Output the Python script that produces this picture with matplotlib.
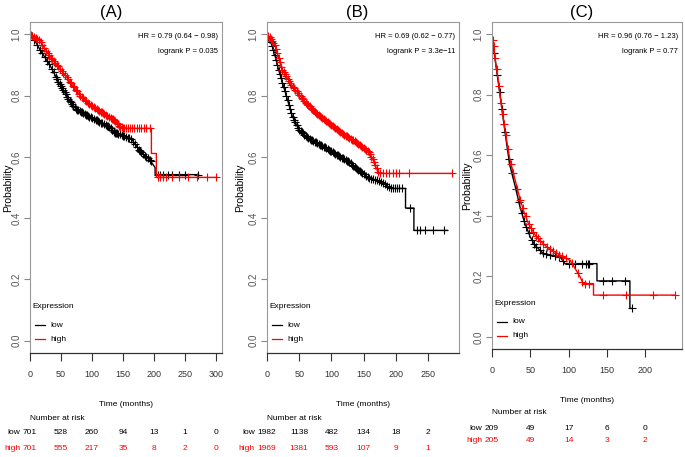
import numpy as np
import matplotlib.pyplot as plt
import matplotlib.transforms as mtransforms

plt.rcParams['font.family'] = ['Liberation Sans', 'DejaVu Sans']

# Panel A curves (time in months, survival probability)
a_low_t = [0, 5, 16, 32, 48, 65, 75, 99, 126, 137, 164, 177, 194, 202, 202, 272]
a_low_s = [1.0, 0.99, 0.95, 0.90, 0.837, 0.78, 0.755, 0.728, 0.70, 0.68, 0.658, 0.62, 0.588, 0.565, 0.542, 0.542]
a_high_t = [0, 8, 16, 32, 48, 65, 81, 99, 121, 137, 145, 150, 196, 196, 204, 204, 301]
a_high_s = [1.0, 0.99, 0.977, 0.929, 0.89, 0.843, 0.80, 0.766, 0.739, 0.718, 0.70, 0.693, 0.693, 0.611, 0.611, 0.533, 0.533]
a_low_cens = [3, 7, 12, 16, 20, 24, 28, 31, 35, 38, 42, 44, 46, 48, 50, 52, 54, 56, 58, 60, 62, 64, 66, 68,
              70, 72, 74, 76, 78, 80, 82, 84, 86, 88, 90, 92, 94, 96, 98, 100, 103, 106, 108, 110, 112, 115,
              117, 120, 122, 124, 126, 128, 130, 132, 133, 135, 136, 138, 139, 141, 142, 145, 148, 150, 152,
              155, 158, 160, 163, 167, 170, 173, 176, 178, 180, 183, 186, 188, 190, 193, 195, 206, 210, 215,
              223, 230, 240, 250, 272]
a_high_cens = [2, 4, 7, 9, 12, 14, 17, 20, 23, 26, 29, 31, 34, 36, 39, 41, 44, 46, 49, 51, 54, 56, 59, 61,
               64, 66, 69, 71, 74, 76, 79, 81, 84, 86, 88, 90, 93, 95, 98, 100, 103, 105, 108, 110, 112, 114,
               116, 118, 120, 122, 125, 127, 130, 132, 134, 136, 138, 140, 142, 144, 146, 148, 150, 152, 155,
               158, 162, 165, 168, 172, 176, 180, 184, 188, 194, 207, 210, 215, 220, 230, 240, 255, 270, 285,
               300]

# Panel B curves
b_low_t = [0, 5, 10, 18, 28.5, 39, 49, 65, 85, 106, 127, 142, 158, 178, 191, 215, 215, 228, 228, 280]
b_low_s = [1.0, 0.98, 0.95, 0.885, 0.81, 0.735, 0.69, 0.659, 0.637, 0.61, 0.584, 0.556, 0.53, 0.519,
           0.497, 0.497, 0.433, 0.433, 0.36, 0.36]
b_high_t = [0, 6, 13, 23, 39, 59.5, 80, 101, 121.5, 142, 158, 166, 173, 287]
b_high_s = [1.0, 0.985, 0.961, 0.886, 0.832, 0.778, 0.735, 0.702, 0.67, 0.643, 0.616, 0.584, 0.546, 0.546]
b_low_cens = [2, 4, 6, 8, 10, 12, 14, 16, 18, 20, 22, 24, 26, 28, 30, 32, 34, 36, 38, 40, 42, 44, 46, 48,
              50, 52, 54, 56, 58, 60, 62, 64, 66, 68, 70, 72, 74, 76, 78, 80, 82, 84, 86, 88, 90, 92, 94,
              96, 98, 100, 102, 104, 106, 108, 110, 112, 114, 116, 118, 120, 122, 124, 126, 128, 130, 132,
              134, 136, 138, 140, 142, 144, 146, 148, 150, 153, 156, 159, 162, 165, 168, 171, 174, 177, 180,
              183, 186, 189, 192, 195, 198, 201, 205, 210, 222, 233, 237, 245, 258, 275]
b_high_cens = [2, 4, 6, 8, 10, 12, 14, 16, 18, 20, 22, 24, 26, 28, 30, 32, 34, 36, 38, 40, 42, 44, 46, 48,
               50, 52, 54, 56, 58, 60, 62, 64, 66, 68, 70, 72, 74, 76, 78, 80, 82, 84, 86, 88, 90, 92, 94,
               96, 98, 100, 102, 104, 106, 108, 110, 112, 114, 116, 118, 120, 122, 124, 126, 128, 130, 132,
               134, 136, 138, 140, 142, 144, 146, 148, 150, 152, 154, 156, 158, 160, 162, 164, 166, 168,
               170, 172, 176, 180, 185, 190, 195, 200, 205, 220, 287]

# Panel C curves
c_low_t = [0, 2, 5, 8, 11, 15, 19, 23, 30, 36.6, 43, 50, 56, 67, 89, 95, 137, 137, 180, 180, 183]
c_low_s = [1.0, 0.955, 0.90, 0.845, 0.79, 0.714, 0.64, 0.57, 0.50, 0.429, 0.374, 0.33, 0.303, 0.275,
           0.264, 0.242, 0.242, 0.185, 0.185, 0.094, 0.094]
c_high_t = [0, 2, 5, 8, 11, 15, 19, 23, 30, 35, 41, 47.5, 58, 71.5, 89, 102, 108.5, 115, 119, 132.5,
            132.5, 239]
c_high_s = [1.0, 0.96, 0.90, 0.85, 0.79, 0.72, 0.65, 0.59, 0.52, 0.47, 0.418, 0.374, 0.33, 0.297, 0.27,
            0.253, 0.226, 0.198, 0.176, 0.176, 0.138, 0.138]
c_low_cens = [3, 7, 10, 13, 17, 22, 26, 31, 35, 39, 42, 45, 48, 52, 55, 58, 62, 66, 70, 76, 82, 88, 93,
              100, 108, 118, 123, 125, 127, 145, 157, 173, 183]
c_high_cens = [1, 2, 4, 6, 9, 12, 14, 16, 18, 21, 25, 28, 33, 37, 40, 44, 48, 51, 54, 57, 60, 63, 67, 72,
               76, 80, 84, 88, 92, 97, 104, 112, 118, 122, 126, 145, 175, 210, 239]

# Annotations and numbers at risk
titles = ['(A)', '(B)', '(C)']
hr_text = ['HR = 0.79 (0.64 \u2212 0.98)', 'HR = 0.69 (0.62 \u2212 0.77)', 'HR = 0.96 (0.76 \u2212 1.23)']
p_text = ['logrank P = 0.035', 'logrank P = 3.3e\u221211', 'logrank P = 0.77']
a_ticks = [0, 50, 100, 150, 200, 250, 300]
b_ticks = [0, 50, 100, 150, 200, 250]
c_ticks = [0, 50, 100, 150, 200]
a_risk_low = [701, 528, 260, 94, 13, 1, 0]
a_risk_high = [701, 555, 217, 35, 8, 2, 0]
b_risk_low = [1982, 1138, 482, 134, 18, 2]
b_risk_high = [1969, 1381, 593, 107, 9, 1]
c_risk_low = [209, 49, 17, 6, 0]
c_risk_high = [205, 49, 14, 3, 2]

W, H = 685, 457
fig = plt.figure(figsize=(6.85, 4.57), dpi=100)

panels = [
    dict(rect=[30, 104, 192, 331], xlim=310, ticks=a_ticks, title_x=111, ylab_x=8,
         low=(a_low_t, a_low_s, a_low_cens), high=(a_high_t, a_high_s, a_high_cens),
         risk=(a_risk_low, a_risk_high), rows=[404, 419, 433, 448]),
    dict(rect=[267, 104, 192, 331], xlim=298, ticks=b_ticks, title_x=357, ylab_x=240,
         low=(b_low_t, b_low_s, b_low_cens), high=(b_high_t, b_high_s, b_high_cens),
         risk=(b_risk_low, b_risk_high), rows=[404, 419, 433, 448]),
    dict(rect=[492, 108, 190, 327], xlim=248, ticks=c_ticks, title_x=582, ylab_x=467,
         low=(c_low_t, c_low_s, c_low_cens), high=(c_high_t, c_high_s, c_high_cens),
         risk=(c_risk_low, c_risk_high), rows=[400, 413, 428, 441]),
]

small = 6
for i, p in enumerate(panels):
    l, b, w, h = p['rect']
    ax = fig.add_axes([l / W, b / H, w / W, h / H])
    for (t, s, cens), col in [(p['low'], 'black'), (p['high'], 'red')]:
        ax.plot(t, s, color=col, lw=1.0)
        ax.plot(cens, np.interp(cens, t, s), ls='none', marker='+', ms=5.5, mew=0.8, color=col)
    ax.set_xlim(0, p['xlim'])
    ax.set_ylim(-0.04, 1.04)
    ax.set_xticks(p['ticks'])
    ax.set_xticklabels([str(v) for v in p['ticks']], fontsize=6.5)
    ax.set_yticks([0.0, 0.2, 0.4, 0.6, 0.8, 1.0])
    ax.set_yticklabels(['0.0', '0.2', '0.4', '0.6', '0.8', '1.0'], rotation=90, va='center',
                       fontsize=7, color='#555555')
    ax.tick_params(axis='x', length=6, width=0.8, pad=6, colors='#333333')
    ax.tick_params(axis='y', length=4, width=0.8, pad=2, color='#888888')
    for side in ['left', 'top', 'right']:
        ax.spines[side].set_color('#999999')
        ax.spines[side].set_linewidth(0.8)
    ax.spines['bottom'].set_color('#333333')
    ax.spines['bottom'].set_linewidth(0.9)

    ax.text(0.98, 0.955, hr_text[i], transform=ax.transAxes, ha='right', va='center', fontsize=5.5)
    ax.text(0.98, 0.91, p_text[i], transform=ax.transAxes, ha='right', va='center', fontsize=5.5)

    # legend drawn by hand (R style)
    ax.text(0.012, 0.139, 'Expression', transform=ax.transAxes, ha='left', va='center', fontsize=small)
    for yy, col, lab in [(0.084, 'black', 'low'), (0.041, 'red', 'high')]:
        ax.plot([0.026, 0.078], [yy, yy], color=col, lw=0.9, transform=ax.transAxes)
        ax.text(0.105, yy, lab, transform=ax.transAxes, ha='left', va='center', fontsize=small)

    fig.text(p['title_x'] / W, 1 - 12 / H, titles[i], ha='center', va='center', fontsize=12)
    fig.text(p['ylab_x'] / W, 1 - (H - b - h / 2) / H, 'Probability', rotation=90, ha='center',
             va='center', fontsize=7.5)

    trans = mtransforms.blended_transform_factory(ax.transData, fig.transFigure)
    r_time, r_nar, r_low, r_high = p['rows']
    ax.text(p['xlim'] / 2, 1 - r_time / H, 'Time (months)', transform=trans, ha='center', va='center',
            fontsize=small)
    ax.text(0, 1 - r_nar / H, 'Number at risk', transform=trans, ha='left', va='center', fontsize=small)
    risk_low, risk_high = p['risk']
    for row_y, vals, col, lab in [(r_low, risk_low, 'black', 'low'), (r_high, risk_high, 'red', 'high')]:
        for tk, v in zip(p['ticks'], vals):
            ax.text(tk, 1 - row_y / H, str(v), transform=trans, ha='center', va='center',
                    fontsize=small, color=col, clip_on=False)
        off = -(len(str(vals[0])) * 0.556 * small / 2 + 2)
        ax.annotate(lab, xy=(0, 1 - row_y / H), xycoords=trans, xytext=(off, 0),
                    textcoords='offset points', ha='right', va='center', fontsize=small, color=col)

fig.savefig('out.png', dpi=100)
